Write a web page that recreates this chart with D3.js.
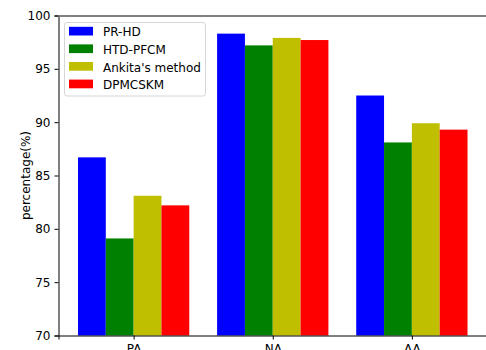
<!DOCTYPE html>
<html>
<head>
<meta charset="utf-8">
<script src="https://cdn.jsdelivr.net/npm/d3@7"></script>
<style>
  html, body { margin: 0; padding: 0; background: #fff; }
  svg { display: block; font-family: "DejaVu Sans", sans-serif; }
</style>
</head>
<body>
<div id="chart"></div>
<script>
// data
const categories = ['PA', 'NA', 'AA'];
const seriesNames = ['PR-HD', 'HTD-PFCM', "Ankita's method", 'DPMCSKM'];
const seriesColors = ['#0000ff', '#008000', '#bfbf00', '#ff0000'];
const prhd = [86.7, 98.3, 92.5];
const htdpfcm = [79.1, 97.2, 88.1];
const ankita = [83.1, 97.9, 89.9];
const dpmcskm = [82.2, 97.7, 89.3];
const yTicks = [70, 75, 80, 85, 90, 95, 100];

const seriesValues = [prhd, htdpfcm, ankita, dpmcskm];

const W = 486, H = 350;
const mLeft = 58.5, mRight = 487, mTop = 15.5, mBottom = 335.5;
const barW = 0.2;
const fs = 12;

const svg = d3.select('#chart').append('svg')
  .attr('width', W).attr('height', H);

// x in "category index" units like matplotlib, with 5% margins
const x = d3.scaleLinear()
  .domain([-0.54, categories.length - 1 + 0.54])
  .range([mLeft, mRight]);
const y = d3.scaleLinear()
  .domain([70, 100])
  .range([mBottom, mTop]);

// Bars
seriesValues.forEach((vals, j) => {
  const off = (j - (seriesValues.length - 1) / 2) * barW;
  svg.append('g').selectAll('rect')
    .data(vals)
    .enter().append('rect')
    .attr('x', (d, i) => x(i + off - barW / 2))
    .attr('width', x(barW) - x(0))
    .attr('y', d => y(d))
    .attr('height', d => y(70) - y(d))
    .attr('fill', seriesColors[j]);
});

// Axes
const yAxis = svg.append('g')
  .attr('transform', `translate(${mLeft},0)`)
  .call(d3.axisLeft(y).tickValues(yTicks).tickSize(4).tickPadding(4));
const xAxis = svg.append('g')
  .attr('transform', `translate(0,${mBottom})`)
  .call(d3.axisBottom(x).tickValues(d3.range(categories.length))
    .tickFormat(i => categories[i]).tickSize(4).tickPadding(4.5));

[yAxis, xAxis].forEach(a => {
  a.selectAll('text').attr('font-size', fs).attr('fill', '#000')
    .attr('font-family', '"DejaVu Sans", sans-serif');
  a.selectAll('line').attr('stroke', '#000');
  a.select('.domain').attr('stroke', '#000');
});

// top spine (rendered greyish in the reference)
svg.append('line')
  .attr('x1', mLeft).attr('x2', mRight)
  .attr('y1', 16).attr('y2', 16)
  .attr('stroke', '#808080').attr('stroke-width', 2);

// y label
svg.append('text')
  .attr('transform', `translate(29.5,${(mTop + mBottom) / 2}) rotate(-90)`)
  .attr('text-anchor', 'middle')
  .attr('font-size', fs)
  .text('percentage(%)');

// Legend
const lg = svg.append('g').attr('transform', 'translate(64.5,22.5)');
lg.append('rect')
  .attr('width', 141).attr('height', 73.5)
  .attr('rx', 2.5)
  .attr('fill', '#fff').attr('fill-opacity', 0.8)
  .attr('stroke', '#d6d6d6');

seriesNames.forEach((name, i) => {
  const ig = lg.append('g').attr('transform', `translate(0,${9.5 + i * 17.6})`);
  ig.append('rect')
    .attr('x', 4.5).attr('y', -5.2)
    .attr('width', 24).attr('height', 8.7)
    .attr('fill', seriesColors[i]);
  ig.append('text')
    .attr('x', 38.5).attr('y', 4.3)
    .attr('font-size', fs)
    .attr('fill', '#000')
    .text(name);
});
</script>
</body>
</html>
